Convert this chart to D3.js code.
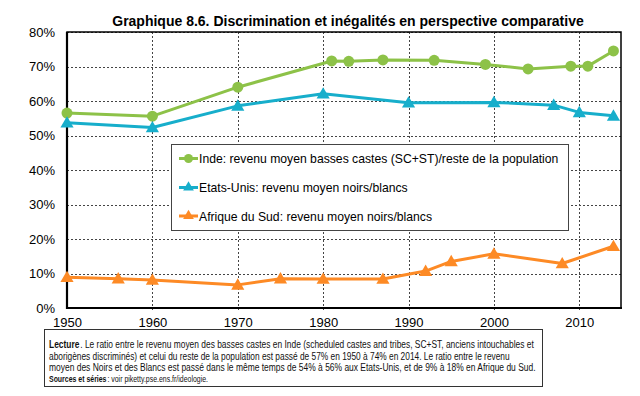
<!DOCTYPE html>
<html><head><meta charset="utf-8">
<script src="https://cdn.jsdelivr.net/npm/d3@7"></script>
<style>
html,body{margin:0;padding:0;background:#fff;}
svg{display:block;font-family:"Liberation Sans",Arial,sans-serif;}
</style></head>
<body>
<svg id="c" width="640" height="396"></svg>
<script>
const title = "Graphique 8.6. Discrimination et inégalités en perspective comparative";
const xTicks = [1950, 1960, 1970, 1980, 1990, 2000, 2010];
const yTicks = [0, 0.1, 0.2, 0.3, 0.4, 0.5, 0.6, 0.7, 0.8];

const indeYears = [1950, 1960, 1970, 1981, 1983, 1987, 1993, 1999, 2004, 2009, 2011, 2014];
const indeValues = [0.565, 0.556, 0.640, 0.716, 0.715, 0.719, 0.718, 0.706, 0.693, 0.701, 0.701, 0.745];

const usYears = [1950, 1960, 1970, 1980, 1990, 2000, 2007, 2010, 2014];
const usValues = [0.537, 0.523, 0.586, 0.621, 0.595, 0.596, 0.588, 0.567, 0.557];

const safYears = [1950, 1956, 1960, 1970, 1975, 1980, 1987, 1992, 1995, 2000, 2008, 2014];
const safValues = [0.089, 0.085, 0.081, 0.067, 0.085, 0.084, 0.084, 0.107, 0.135, 0.157, 0.129, 0.179];

const seriesNames = [
  "Inde: revenu moyen basses castes (SC+ST)/reste de la population",
  "Etats-Unis: revenu moyen noirs/blancs",
  "Afrique du Sud: revenu moyen noirs/blancs"
];
const seriesColors = ["#8dc248", "#17aecb", "#fd8a25"];
const seriesMarkers = ["circle", "triangle", "triangle"];

const captionLines = [
  [["Lecture", true], [". Le ratio entre le revenu moyen des basses castes en Inde (scheduled castes and tribes, SC+ST, anciens intouchables et", false]],
  [["aborigènes discriminés) et celui du reste de la population est passé de 57% en 1950 à 74% en 2014. Le ratio entre le revenu", false]],
  [["moyen des Noirs et des Blancs est passé dans le même temps de 54% à 56% aux Etats-Unis, et de 9% à 18% en Afrique du Sud.", false]],
  [["Sources et séries", true], [": voir piketty.pse.ens.fr/ideologie.", false]]
];

const series = [
  indeYears.map((y, i) => ({x: y, v: indeValues[i]})),
  usYears.map((y, i) => ({x: y, v: usValues[i]})),
  safYears.map((y, i) => ({x: y, v: safValues[i]}))
];

const svg = d3.select("#c");
const L = 67, R = 621, T = 32, B = 308;
const x = d3.scaleLinear().domain([1950, 2015]).range([L, R + 1]);
const y = d3.scaleLinear().domain([0, 0.8]).range([B, T]);

// title
svg.append("text").attr("x", 348).attr("y", 26).attr("text-anchor", "middle")
  .attr("font-size", 14).attr("font-weight", "bold").attr("fill", "#000").text(title);

// gridlines
const grid = svg.append("g");
grid.selectAll("line.h").data(yTicks.slice(1)).join("line")
  .attr("x1", L).attr("x2", R).attr("y1", d => Math.round(y(d)) + 0.5).attr("y2", d => Math.round(y(d)) + 0.5)
  .attr("stroke", "#444").attr("stroke-width", 1).attr("stroke-dasharray", "2,2");
grid.selectAll("line.v").data(xTicks.slice(1)).join("line")
  .attr("y1", T).attr("y2", B + 4).attr("x1", d => Math.round(x(d)) + 0.5).attr("x2", d => Math.round(x(d)) + 0.5)
  .attr("stroke", "#444").attr("stroke-width", 1).attr("stroke-dasharray", "2,2");

// frame
svg.append("rect").attr("x", L).attr("y", T).attr("width", R - L).attr("height", B - T)
  .attr("fill", "none").attr("stroke", "#000").attr("stroke-width", 1.5);
svg.append("line").attr("x1", L).attr("x2", L).attr("y1", T).attr("y2", B + 1).attr("stroke", "#000").attr("stroke-width", 2.2);
svg.append("line").attr("x1", L).attr("x2", R + 1).attr("y1", B).attr("y2", B).attr("stroke", "#000").attr("stroke-width", 2.2);

// axes
const yAxis = d3.axisLeft(y).tickValues(yTicks).tickFormat(d3.format(".0%")).tickSize(0).tickPadding(12);
const gy = svg.append("g").attr("transform", `translate(${L},0)`).call(yAxis);
gy.select(".domain").remove();
gy.selectAll("text").attr("font-size", 13).attr("fill", "#000").attr("font-family", "Liberation Sans, Arial, sans-serif");

const xAxis = d3.axisBottom(x).tickValues(xTicks).tickFormat(d3.format("d")).tickSize(0).tickPadding(10);
const gx = svg.append("g").attr("transform", `translate(0,${B})`).call(xAxis);
gx.select(".domain").remove();
gx.selectAll("text").attr("font-size", 13).attr("fill", "#000").attr("font-family", "Liberation Sans, Arial, sans-serif");

// series
const line = d3.line().x(d => x(d.x)).y(d => y(d.v));
const tri = d3.symbol().type(d3.symbolTriangle).size(75);
series.forEach((s, i) => {
  svg.append("path").datum(s).attr("d", line).attr("fill", "none")
    .attr("stroke", seriesColors[i]).attr("stroke-width", 3).attr("stroke-linejoin", "round");
  const g = svg.append("g");
  if (seriesMarkers[i] === "circle") {
    g.selectAll("circle").data(s).join("circle").attr("cx", d => x(d.x)).attr("cy", d => y(d.v))
      .attr("r", 5.5).attr("fill", seriesColors[i]);
  } else {
    g.selectAll("path").data(s).join("path").attr("d", tri)
      .attr("transform", d => `translate(${x(d.x)},${y(d.v) + 1})`).attr("fill", seriesColors[i]);
  }
});

// legend
const lg = svg.append("g");
lg.append("rect").attr("x", 171.5).attr("y", 144.5).attr("width", 397).attr("height", 86)
  .attr("fill", "#fff").attr("stroke", "#444").attr("stroke-width", 1);
const legY = [158.5, 187.5, 216];
seriesNames.forEach((n, i) => {
  lg.append("line").attr("x1", 179).attr("x2", 198).attr("y1", legY[i]).attr("y2", legY[i])
    .attr("stroke", seriesColors[i]).attr("stroke-width", 3);
  if (seriesMarkers[i] === "circle") {
    lg.append("circle").attr("cx", 188.5).attr("cy", legY[i]).attr("r", 4.5).attr("fill", seriesColors[i]);
  } else {
    lg.append("path").attr("d", d3.symbol().type(d3.symbolTriangle).size(50))
      .attr("transform", `translate(188.5,${legY[i]})`).attr("fill", seriesColors[i]);
  }
  lg.append("text").attr("x", 199).attr("y", legY[i] + 4.5).attr("font-size", 12.2).attr("fill", "#000").text(n);
});

// caption
const cg = svg.append("g");
cg.append("rect").attr("x", 44.5).attr("y", 329.5).attr("width", 498).attr("height", 57)
  .attr("fill", "#fff").attr("stroke", "#333").attr("stroke-width", 1);
const capY = [348, 359.5, 371, 382];
const capW = [486, 462, 488, 160];
captionLines.forEach((ln, i) => {
  const fs = i === 3 ? 8.5 : 10;
  const lineG = cg.append("g");
  let cx = 0;
  ln.forEach(([s, b]) => {
    const t = lineG.append("text").attr("x", cx).attr("y", 0)
      .attr("font-size", fs).attr("fill", "#111").attr("font-weight", b ? "bold" : "normal").text(s);
    cx += t.node().getComputedTextLength() + 1;
  });
  const k = capW[i] / cx;
  lineG.attr("transform", `translate(49,${capY[i]}) scale(${k},1)`);
});
</script>
</body></html>
